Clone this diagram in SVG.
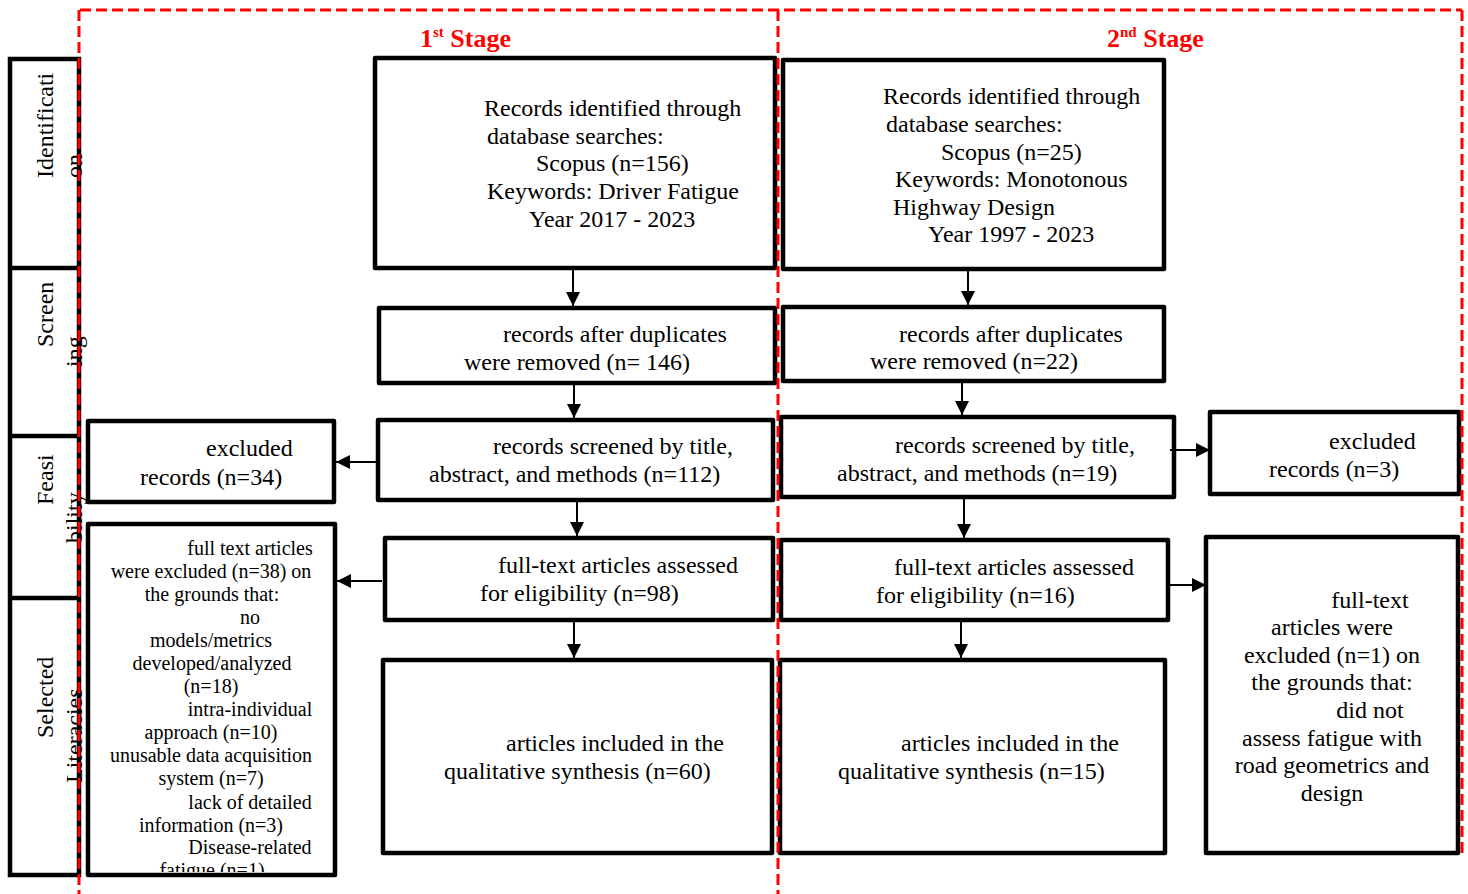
<svg xmlns="http://www.w3.org/2000/svg" width="1468" height="894" viewBox="0 0 1468 894">
<style>
.box{fill:#fff;stroke:#000;stroke-width:4.5;stroke-linejoin:round}
.t{font-family:"Liberation Serif","Times New Roman",serif;font-size:24px;fill:#000}
.s{font-family:"Liberation Serif","Times New Roman",serif;font-size:20px;fill:#000}
.side{font-family:"Liberation Serif","Times New Roman",serif;font-size:24px;fill:#000}
.hdr{font-family:"Liberation Serif","Times New Roman",serif;font-size:26px;font-weight:bold;fill:#ff0000}
.con{stroke:#000;stroke-width:2;fill:none;marker-end:url(#ah)}
.red{stroke:#ff0000;stroke-width:3;stroke-dasharray:11 5;fill:none}
</style>
<defs>
<marker id="ah" markerUnits="userSpaceOnUse" markerWidth="16" markerHeight="16" refX="14" refY="7" orient="auto">
<path d="M0,0 L14,7 L0,14 Z" fill="#000"/>
</marker>
<clipPath id="clipL"><rect x="90" y="526" width="243" height="346"/></clipPath>
</defs>

<g id="sidebar">
<rect x="10" y="59" width="69" height="816" fill="#fff" stroke="#000" stroke-width="4.5"/>
<line x1="10" y1="268" x2="79" y2="268" stroke="#000" stroke-width="4.5"/>
<line x1="10" y1="436" x2="79" y2="436" stroke="#000" stroke-width="4.5"/>
<line x1="10" y1="598" x2="79" y2="598" stroke="#000" stroke-width="4.5"/>
<text class="side" transform="translate(53,178) rotate(-90)">Identificati</text>
<text class="side" transform="translate(82,178) rotate(-90)">on</text>
<text class="side" transform="translate(53,347) rotate(-90)">Screen</text>
<text class="side" transform="translate(82,367) rotate(-90)">ing</text>
<text class="side" transform="translate(53,505) rotate(-90)">Feasi</text>
<text class="side" transform="translate(82,543) rotate(-90)">bility</text>
<text class="side" transform="translate(53,738) rotate(-90)">Selected</text>
<text class="side" transform="translate(82,783) rotate(-90)">Literacies</text>
</g>

<g id="s1-identified">
<rect class="box" x="375" y="58" width="400" height="210"/>
<text class="t" x="484" y="116">Records identified through</text>
<text class="t" x="487" y="144">database searches:</text>
<text class="t" x="536" y="171">Scopus (n=156)</text>
<text class="t" x="487" y="199">Keywords: Driver Fatigue</text>
<text class="t" x="529" y="227">Year 2017 - 2023</text>
</g>
<g id="s1-duplicates">
<rect class="box" x="379" y="308" width="396" height="75"/>
<text class="t" x="503" y="342">records after duplicates</text>
<text class="t" x="464" y="370">were removed (n= 146)</text>
</g>
<g id="s1-screened">
<rect class="box" x="378" y="420" width="395" height="80"/>
<text class="t" x="493" y="454">records screened by title,</text>
<text class="t" x="429" y="482">abstract, and methods (n=112)</text>
</g>
<g id="s1-fulltext">
<rect class="box" x="385" y="538" width="388" height="82"/>
<text class="t" x="498" y="573">full-text articles assessed</text>
<text class="t" x="480" y="601">for eligibility (n=98)</text>
</g>
<g id="s1-included">
<rect class="box" x="383" y="660" width="389" height="193"/>
<text class="t" x="506" y="751">articles included in the</text>
<text class="t" x="444" y="779">qualitative synthesis (n=60)</text>
</g>
<g id="s1-excluded-records">
<rect class="box" x="88" y="421" width="246" height="81"/>
<text class="t" x="206" y="456">excluded</text>
<text class="t" x="140" y="485">records (n=34)</text>
</g>
<g id="s1-excluded-fulltext">
<rect class="box" x="88" y="524" width="247" height="351"/>
<g clip-path="url(#clipL)" class="s" text-anchor="middle">
<text x="250" y="555">full text articles</text>
<text x="211" y="578">were excluded (n=38) on</text>
<text x="212" y="601">the grounds that:</text>
<text x="250" y="624">no</text>
<text x="211" y="647">models/metrics</text>
<text x="212" y="670">developed/analyzed</text>
<text x="211" y="693">(n=18)</text>
<text x="250" y="716">intra-individual</text>
<text x="211" y="739">approach (n=10)</text>
<text x="211" y="762">unusable data acquisition</text>
<text x="211" y="785">system (n=7)</text>
<text x="250" y="809">lack of detailed</text>
<text x="211" y="832">information (n=3)</text>
<text x="250" y="854">Disease-related</text>
<text x="212" y="877">fatigue (n=1)</text>
</g>
</g>

<g id="s2-identified">
<rect class="box" x="783" y="60" width="381" height="209"/>
<text class="t" x="883" y="104">Records identified through</text>
<text class="t" x="886" y="132">database searches:</text>
<text class="t" x="941" y="160">Scopus (n=25)</text>
<text class="t" x="895" y="187">Keywords: Monotonous</text>
<text class="t" x="893" y="215">Highway Design</text>
<text class="t" x="928" y="242">Year 1997 - 2023</text>
</g>
<g id="s2-duplicates">
<rect class="box" x="783" y="307" width="381" height="74"/>
<text class="t" x="899" y="342">records after duplicates</text>
<text class="t" x="870" y="369">were removed (n=22)</text>
</g>
<g id="s2-screened">
<rect class="box" x="781" y="417" width="393" height="80"/>
<text class="t" x="895" y="453">records screened by title,</text>
<text class="t" x="837" y="481">abstract, and methods (n=19)</text>
</g>
<g id="s2-fulltext">
<rect class="box" x="781" y="540" width="387" height="80"/>
<text class="t" x="894" y="575">full-text articles assessed</text>
<text class="t" x="876" y="603">for eligibility (n=16)</text>
</g>
<g id="s2-included">
<rect class="box" x="780" y="660" width="385" height="193"/>
<text class="t" x="901" y="751">articles included in the</text>
<text class="t" x="838" y="779">qualitative synthesis (n=15)</text>
</g>
<g id="s2-excluded-records">
<rect class="box" x="1210" y="412" width="249" height="82"/>
<text class="t" x="1329" y="449">excluded</text>
<text class="t" x="1269" y="477">records (n=3)</text>
</g>
<g id="s2-excluded-fulltext">
<rect class="box" x="1206" y="537" width="252" height="316"/>
<g class="t" text-anchor="middle">
<text x="1370" y="608">full-text</text>
<text x="1332" y="635">articles were</text>
<text x="1332" y="663">excluded (n=1) on</text>
<text x="1332" y="690">the grounds that:</text>
<text x="1370" y="718">did not</text>
<text x="1332" y="746">assess fatigue with</text>
<text x="1332" y="773">road geometrics and</text>
<text x="1332" y="801">design</text>
</g>
</g>

<g id="connectors">
<line class="con" x1="573" y1="270" x2="573" y2="306"/>
<line class="con" x1="574" y1="385" x2="574" y2="418"/>
<line class="con" x1="577" y1="502" x2="577" y2="536"/>
<line class="con" x1="574" y1="622" x2="574" y2="658"/>
<line class="con" x1="968" y1="271" x2="968" y2="305"/>
<line class="con" x1="962" y1="383" x2="962" y2="415"/>
<line class="con" x1="964" y1="499" x2="964" y2="538"/>
<line class="con" x1="961" y1="622" x2="961" y2="658"/>
<line class="con" x1="376" y1="462" x2="336" y2="462"/>
<line class="con" x1="382" y1="581" x2="337" y2="581"/>
<line class="con" x1="1170" y1="450" x2="1210" y2="450"/>
<line class="con" x1="1170" y1="585" x2="1206" y2="585"/>
</g>

<g id="stage-frames">
<line class="red" x1="80" y1="10" x2="1462" y2="10"/>
<line class="red" x1="79" y1="10" x2="79" y2="894"/>
<line class="red" x1="778" y1="10" x2="778" y2="894"/>
<line class="red" x1="1462" y1="10" x2="1462" y2="856"/>
<text class="hdr" x="420" y="47">1<tspan font-size="15" dy="-10">st</tspan><tspan dy="10"> Stage</tspan></text>
<text class="hdr" x="1107" y="47">2<tspan font-size="15" dy="-10">nd</tspan><tspan dy="10"> Stage</tspan></text>
</g>
</svg>
